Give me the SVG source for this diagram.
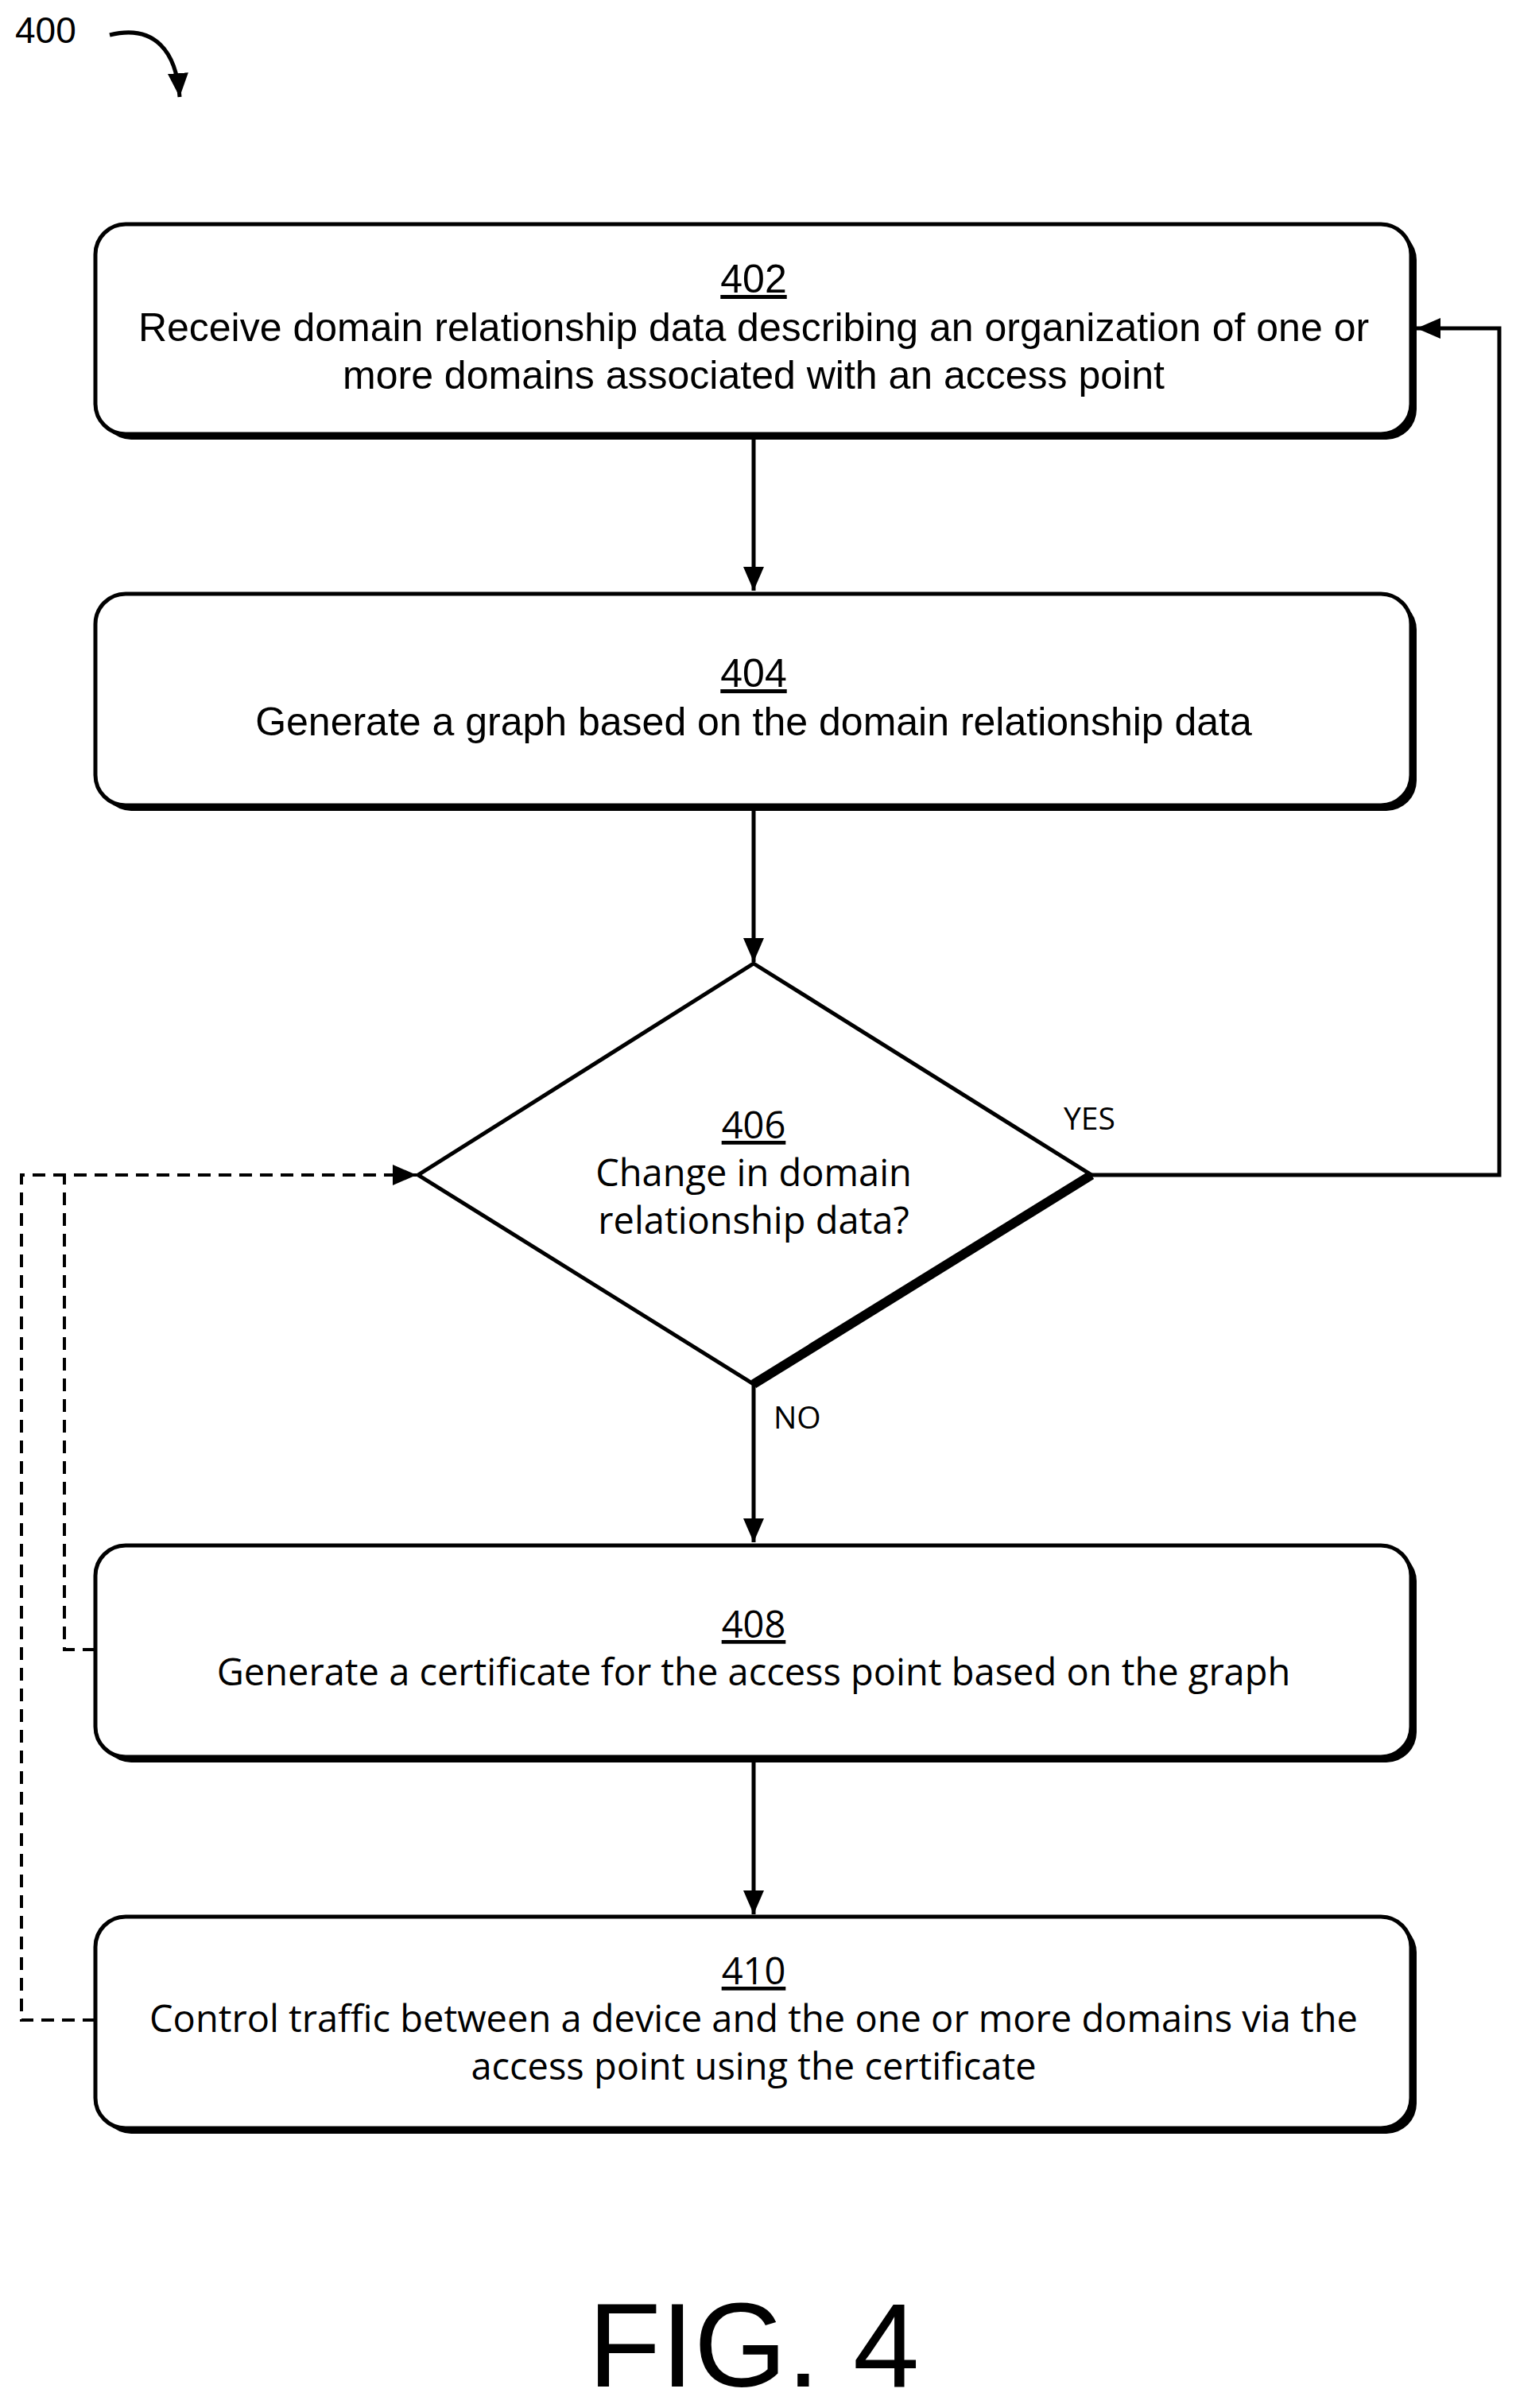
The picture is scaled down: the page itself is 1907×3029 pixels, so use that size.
<svg xmlns="http://www.w3.org/2000/svg" width="1907" height="3029" viewBox="0 0 1907 3029">
<style>
.box{fill:#fff;stroke:#000;stroke-width:5}
.sh{fill:#000}
.t{font-family:"Liberation Sans",Arial,sans-serif;font-size:50px;text-anchor:middle;fill:#000}
.o{font-family:"Open Sans","Liberation Sans",sans-serif;font-size:47px;text-anchor:middle;fill:#000}
.lbl{font-family:"Open Sans","Liberation Sans",sans-serif;font-size:39px;fill:#000}
.c{fill:none;stroke:#000;stroke-width:5}
.d{fill:none;stroke:#000;stroke-width:4;stroke-dasharray:16,10}
</style>
<defs>
<marker id="A" viewBox="0 0 10 10" refX="10" refY="5" markerWidth="30" markerHeight="26" orient="auto" markerUnits="userSpaceOnUse" preserveAspectRatio="none"><path d="M0,0 L10,5 L0,10 z" fill="#000"/></marker>
</defs>
<text x="19" y="54" style="font-family:'Liberation Sans',Arial,sans-serif;font-size:46px">400</text>
<path d="M138,44 C195,30 222,65 226,122" class="c" marker-end="url(#A)"/>
<g id="n402"><rect x="127" y="289" width="1655" height="264" rx="38" class="sh"/><rect x="120" y="282" width="1655" height="264" rx="38" class="box"/>
<text class="t" x="948" y="368" text-decoration="underline">402</text>
<text class="t" x="948" y="429">Receive domain relationship data describing an organization of one or</text>
<text class="t" x="948" y="489">more domains associated with an access point</text></g>
<g id="n404"><rect x="127" y="754" width="1655" height="266" rx="38" class="sh"/><rect x="120" y="747" width="1655" height="266" rx="38" class="box"/>
<text class="t" x="948" y="864" text-decoration="underline">404</text>
<text class="t" x="948" y="925">Generate a graph based on the domain relationship data</text></g>
<g id="n406"><path d="M948,1212 L1373,1478 L948,1741 L526,1478 Z" fill="#fff" stroke="#000" stroke-width="5"/>
<path d="M1373,1478 L948,1741" stroke="#000" stroke-width="12"/>
<text class="o" x="948" y="1432" text-decoration="underline">406</text>
<text class="o" x="948" y="1492">Change in domain</text>
<text class="o" x="948" y="1552">relationship data?</text></g>
<g id="n408"><rect x="127" y="1951" width="1655" height="266" rx="38" class="sh"/><rect x="120" y="1944" width="1655" height="266" rx="38" class="box"/>
<text class="o" x="948" y="2060" text-decoration="underline">408</text>
<text class="o" x="948" y="2120">Generate a certificate for the access point based on the graph</text></g>
<g id="n410"><rect x="127" y="2418" width="1655" height="266" rx="38" class="sh"/><rect x="120" y="2411" width="1655" height="266" rx="38" class="box"/>
<text class="o" x="948" y="2496" text-decoration="underline">410</text>
<text class="o" x="948" y="2556">Control traffic between a device and the one or more domains via the</text>
<text class="o" x="948" y="2616">access point using the certificate</text></g>
<g id="connectors">
<path d="M948,553 L948,743" class="c" marker-end="url(#A)"/>
<path d="M948,1020 L948,1210" class="c" marker-end="url(#A)"/>
<path d="M948,1741 L948,1940" class="c" marker-end="url(#A)"/>
<path d="M948,2217 L948,2408" class="c" marker-end="url(#A)"/>
<path d="M1373,1478 L1886,1478 L1886,413 L1782,413" class="c" marker-end="url(#A)"/>
<path d="M120,2075 L81,2075 L81,1478" class="d"/>
<path d="M120,2541 L27,2541 L27,1478 L524,1478" class="d" marker-end="url(#A)"/>
<text class="lbl" x="1338" y="1421">YES</text>
<text class="lbl" x="973" y="1797">NO</text>
</g>
<text x="948" y="3002" style="font-family:'Liberation Sans',Arial,sans-serif;font-size:150px;text-anchor:middle">FIG. 4</text>
</svg>
